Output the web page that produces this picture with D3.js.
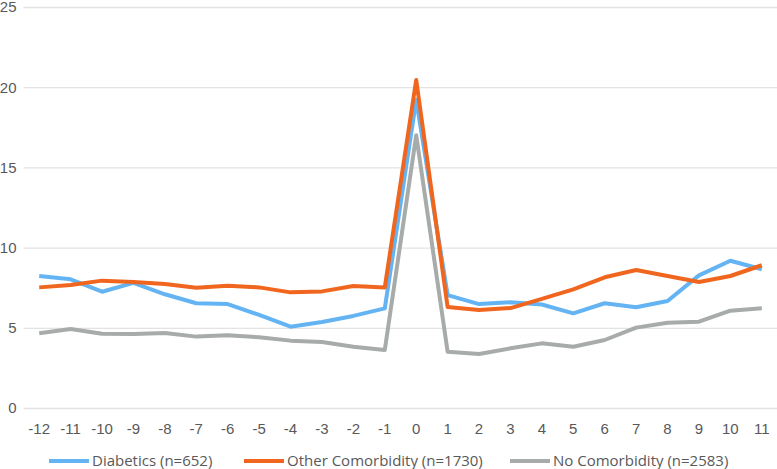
<!DOCTYPE html>
<html><head><meta charset="utf-8">
<script src="https://cdn.jsdelivr.net/npm/d3@7"></script>
<style>body{margin:0;background:#fff;}svg{display:block;font-family:"Open Sans",sans-serif;}</style>
</head><body><svg id="c" width="777" height="469"></svg>
<script>
const months = [-12,-11,-10,-9,-8,-7,-6,-5,-4,-3,-2,-1,0,1,2,3,4,5,6,7,8,9,10,11];
const diabetics = [8.23,8.02,7.25,7.8,7.09,6.53,6.48,5.8,5.07,5.36,5.74,6.21,19.2,7.04,6.48,6.59,6.45,5.9,6.53,6.28,6.67,8.27,9.18,8.65];
const otherComorb = [7.52,7.67,7.94,7.86,7.73,7.5,7.62,7.52,7.21,7.27,7.6,7.52,20.45,6.3,6.11,6.23,6.8,7.4,8.15,8.6,8.23,7.86,8.23,8.9];
const noComorb = [4.66,4.93,4.63,4.61,4.68,4.45,4.53,4.41,4.2,4.11,3.82,3.62,17.0,3.51,3.37,3.72,4.03,3.82,4.24,5.01,5.32,5.38,6.07,6.22];
const yTicks = [0,5,10,15,20,25];
const seriesNames = ["Diabetics (n=652)","Other Comorbidity (n=1730)","No Comorbidity (n=2583)"];
const seriesColors = ["#64b4f4","#f0661e","#a7aba9"];
const seriesData = [diabetics, otherComorb, noComorb];

const svg = d3.select("#c");
const x = d3.scaleBand().domain(months).range([23.5,777.5]);
const y = d3.scaleLinear().domain([0,25]).range([408,7]);

const yAxis = svg.append("g").attr("transform","translate(23.5,0)")
  .call(d3.axisLeft(y).tickValues(yTicks).tickSize(-754).tickPadding(6));
yAxis.select(".domain").remove();
yAxis.selectAll(".tick line").attr("stroke","#e3e3e3").attr("stroke-width",1.3);
yAxis.selectAll(".tick text").attr("fill","#595959").style("font-size","15px").attr("x",-7);

const xAxis = svg.append("g").attr("transform","translate(0,408)")
  .call(d3.axisBottom(x).tickSize(0).tickPadding(15));
xAxis.select(".domain").remove();
xAxis.selectAll(".tick text").attr("fill","#595959").style("font-size","15px");

const line = d3.line().x((d,i)=>x(months[i])+x.bandwidth()/2).y(d=>y(d));
seriesData.forEach((s,k)=>{
  svg.append("path").datum(s).attr("d",line).attr("fill","none")
    .attr("stroke",seriesColors[k]).attr("stroke-width",4).attr("stroke-linejoin","round");
});

const legX = [49,244,510];
seriesNames.forEach((n,k)=>{
  const g = svg.append("g").attr("transform",`translate(${legX[k]},461)`);
  g.append("line").attr("x1",0).attr("x2",40).attr("stroke",seriesColors[k]).attr("stroke-width",4);
  g.append("text").attr("x",43).attr("dy","0.35em").attr("fill","#595959").style("font-size","15px").text(n);
});
</script></body></html>
